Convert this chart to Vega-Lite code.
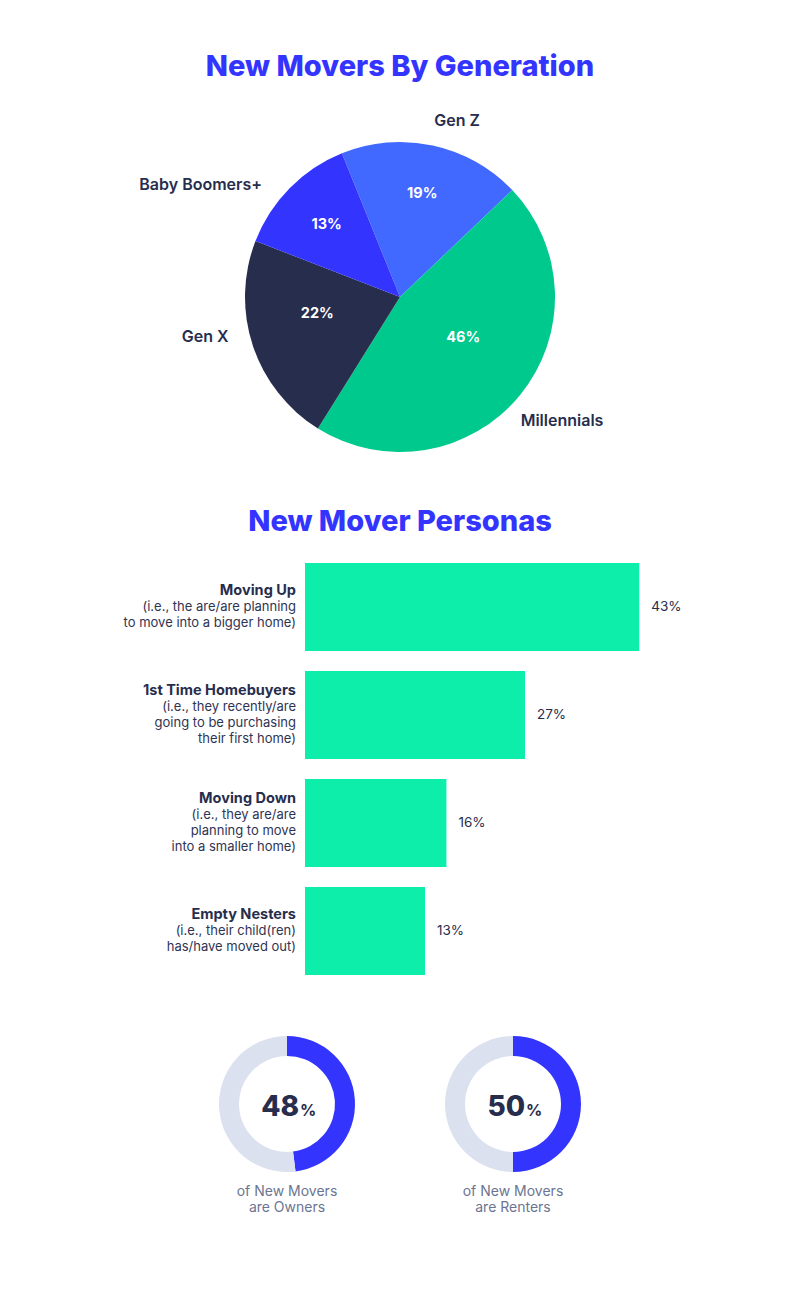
{
  "$schema": "https://vega.github.io/schema/vega-lite/v6.json",
  "background": "white",
  "padding": {"left": 0, "right": 0, "top": 52, "bottom": 0},
  "autosize": {"type": "pad"},
  "config": {
    "view": {"stroke": null},
    "font": "Inter",
    "title": {"font": "Inter", "fontSize": 29, "fontWeight": 800, "color": "#3434ff", "anchor": "middle"}
  },
  "datasets": {
    "gen": [
      {"gen": "Gen Z", "pct": 19},
      {"gen": "Millennials", "pct": 46},
      {"gen": "Gen X", "pct": 22},
      {"gen": "Baby Boomers+", "pct": 13}
    ],
    "personas": [
      {"name": "Moving Up", "desc": ["(i.e., the are/are planning", "to move into a bigger home)"], "pct": 43},
      {"name": "1st Time Homebuyers", "desc": ["(i.e., they recently/are", "going to be purchasing", "their first home)"], "pct": 27},
      {"name": "Moving Down", "desc": ["(i.e., they are/are", "planning to move", "into a smaller home)"], "pct": 16},
      {"name": "Empty Nesters", "desc": ["(i.e., their child(ren)", "has/have moved out)"], "pct": 13}
    ],
    "donuts": [
      {"group": "Owners", "part": "share", "pct": 48},
      {"group": "Owners", "part": "rest", "pct": 52},
      {"group": "Renters", "part": "share", "pct": 50},
      {"group": "Renters", "part": "rest", "pct": 50}
    ]
  },
  "spacing": 61,
  "bounds": "flush",
  "resolve": {"scale": {"color": "independent", "theta": "independent"}},
  "vconcat": [
    {
      "width": 800,
      "height": 410,
      "data": {"name": "gen"},
      "transform": [
        {"window": [{"op": "row_number", "as": "idx"}]},
        {"stack": "pct", "groupby": [], "sort": [{"field": "idx", "order": "ascending"}], "as": ["s0", "s1"]},
        {"calculate": "(datum.s0 + datum.s1) / 2", "as": "mid"},
        {"calculate": "datum.pct + '%'", "as": "pctLabel"}
      ],
      "title": {"text": "New Movers By Generation", "offset": 10.5},
      "encoding": {
        "color": {"field": "gen", "type": "nominal", "legend": null,
          "scale": {"domain": ["Gen Z", "Millennials", "Gen X", "Baby Boomers+"], "range": ["#4169ff", "#00c98d", "#272d4d", "#3434ff"]}}
      },
      "layer": [
        {"mark": {"type": "arc", "outerRadius": 155},
         "encoding": {
           "theta": {"field": "s0", "type": "quantitative", "scale": {"domain": [0, 100], "range": [-0.384, 5.899]}},
           "theta2": {"field": "s1"}
         }},
        {"transform": [{"filter": "datum.gen === 'Gen Z'"}],
         "mark": {"type": "text", "radius": 105, "fontSize": 14.5, "fontWeight": 700, "baseline": "middle", "align": "center"},
         "encoding": {"theta": {"field": "mid", "type": "quantitative"}, "color": {"value": "white"}, "text": {"field": "pctLabel"}}},
        {"transform": [{"filter": "datum.gen === 'Millennials'"}],
         "mark": {"type": "text", "radius": 75, "dx": 5, "dy": -6, "fontSize": 14.5, "fontWeight": 700, "baseline": "middle", "align": "center"},
         "encoding": {"theta": {"field": "mid", "type": "quantitative"}, "color": {"value": "white"}, "text": {"field": "pctLabel"}}},
        {"transform": [{"filter": "datum.gen === 'Gen X'"}],
         "mark": {"type": "text", "radius": 84, "dx": -3, "dy": -10, "fontSize": 14.5, "fontWeight": 700, "baseline": "middle", "align": "center"},
         "encoding": {"theta": {"field": "mid", "type": "quantitative"}, "color": {"value": "white"}, "text": {"field": "pctLabel"}}},
        {"transform": [{"filter": "datum.gen === 'Baby Boomers+'"}],
         "mark": {"type": "text", "radius": 103, "fontSize": 14.5, "fontWeight": 700, "baseline": "middle", "align": "center"},
         "encoding": {"theta": {"field": "mid", "type": "quantitative"}, "color": {"value": "white"}, "text": {"field": "pctLabel"}}},
        {"transform": [{"filter": "datum.gen === 'Gen Z'"}],
         "mark": {"type": "text", "radius": 180, "dx": 19, "fontSize": 16, "fontWeight": 600, "baseline": "middle", "align": "center"},
         "encoding": {"theta": {"field": "mid", "type": "quantitative"}, "color": {"value": "#272d4d"}, "text": {"field": "gen"}}},
        {"transform": [{"filter": "datum.gen === 'Millennials'"}],
         "mark": {"type": "text", "radius": 200, "dx": 7, "dy": -2, "fontSize": 16, "fontWeight": 600, "baseline": "middle", "align": "center"},
         "encoding": {"theta": {"field": "mid", "type": "quantitative"}, "color": {"value": "#272d4d"}, "text": {"field": "gen"}}},
        {"transform": [{"filter": "datum.gen === 'Gen X'"}],
         "mark": {"type": "text", "radius": 200, "dx": -5, "dy": -23, "fontSize": 16, "fontWeight": 600, "baseline": "middle", "align": "center"},
         "encoding": {"theta": {"field": "mid", "type": "quantitative"}, "color": {"value": "#272d4d"}, "text": {"field": "gen"}}},
        {"transform": [{"filter": "datum.gen === 'Baby Boomers+'"}],
         "mark": {"type": "text", "radius": 170, "dx": -17, "dy": 7, "fontSize": 16, "fontWeight": 600, "baseline": "middle", "align": "right"},
         "encoding": {"theta": {"field": "mid", "type": "quantitative"}, "color": {"value": "#272d4d"}, "text": {"field": "gen"}}}
      ]
    },
    {
      "width": 800,
      "height": 412,
      "data": {"name": "personas"},
      "transform": [
        {"calculate": "datum.pct + '%'", "as": "pctLabel"},
        {"calculate": "length(datum.desc)", "as": "ndesc"}
      ],
      "title": {"text": "New Mover Personas", "offset": 26.5},
      "resolve": {"scale": {"yOffset": "independent"}},
      "encoding": {
        "y": {"field": "name", "type": "nominal", "sort": null, "axis": null, "scale": {"paddingInner": 0.185, "paddingOuter": 0}}
      },
      "layer": [
        {"mark": {"type": "bar", "color": "#0eeeab"},
         "encoding": {
           "x": {"field": "pct", "type": "quantitative", "axis": null, "scale": {"domain": [-3.8, 52.2], "range": [305, 705], "nice": false, "zero": false}},
           "x2": {"datum": -3.8}
         }},
        {"mark": {"type": "text", "align": "left", "baseline": "middle", "dx": 12, "fontSize": 13.5, "color": "#272d4d"},
         "encoding": {"x": {"field": "pct", "type": "quantitative"}, "text": {"field": "pctLabel"}}},
        {"mark": {"type": "text", "align": "right", "baseline": "middle", "dx": -9, "fontSize": 14.5, "fontWeight": 700, "lineHeight": 16.3, "color": "#272d4d"},
         "encoding": {
           "x": {"datum": -3.8},
           "yOffset": {"field": "ndesc", "type": "quantitative", "scale": {"domain": [2, 3], "range": [27.7, 19.55], "zero": false, "nice": false}},
           "text": {"field": "name"}
         }},
        {"mark": {"type": "text", "align": "right", "baseline": "middle", "dx": -9, "dy": 16.3, "fontSize": 13, "fontWeight": 400, "lineHeight": 16.3, "color": "#2f3453"},
         "encoding": {
           "x": {"datum": -3.8},
           "yOffset": {"field": "ndesc", "type": "quantitative", "scale": {"domain": [2, 3], "range": [27.7, 19.55], "zero": false, "nice": false}},
           "text": {"field": "desc"}
         }}
      ]
    },
    {
      "width": 800,
      "height": 136,
      "data": {"name": "donuts"},
      "transform": [
        {"window": [{"op": "row_number", "as": "idx"}]},
        {"stack": "pct", "groupby": ["group"], "sort": [{"field": "idx", "order": "ascending"}], "as": ["s0", "s1"]},
        {"calculate": "['of New Movers', 'are ' + datum.group]", "as": "caption"}
      ],
      "encoding": {
        "x": {"field": "group", "type": "nominal", "axis": null, "scale": {"type": "point", "range": [287, 513], "padding": 0}}
      },
      "layer": [
        {"mark": {"type": "arc", "outerRadius": 68, "innerRadius": 48},
         "encoding": {
           "theta": {"field": "s0", "type": "quantitative", "scale": {"domain": [0, 100]}},
           "theta2": {"field": "s1"},
           "color": {"field": "part", "type": "nominal", "legend": null, "scale": {"domain": ["share", "rest"], "range": ["#3434ff", "#dbe1ef"]}}
         }},
        {"transform": [{"filter": "datum.part === 'share'"}],
         "mark": {"type": "text", "align": "right", "baseline": "alphabetic", "dx": 12, "dy": 12, "fontSize": 28, "fontWeight": 800, "color": "#272d4d"},
         "encoding": {"text": {"field": "pct", "type": "quantitative", "format": "d"}}},
        {"transform": [{"filter": "datum.part === 'share'"}],
         "mark": {"type": "text", "align": "left", "baseline": "alphabetic", "dx": 13, "dy": 12, "fontSize": 16, "fontWeight": 700, "color": "#272d4d"},
         "encoding": {"text": {"value": "%"}}},
        {"transform": [{"filter": "datum.part === 'share'"}],
         "mark": {"type": "text", "align": "center", "baseline": "top", "dy": 81, "fontSize": 14, "fontWeight": 400, "lineHeight": 16, "color": "#6b7591"},
         "encoding": {"text": {"field": "caption"}}}
      ]
    }
  ]
}
